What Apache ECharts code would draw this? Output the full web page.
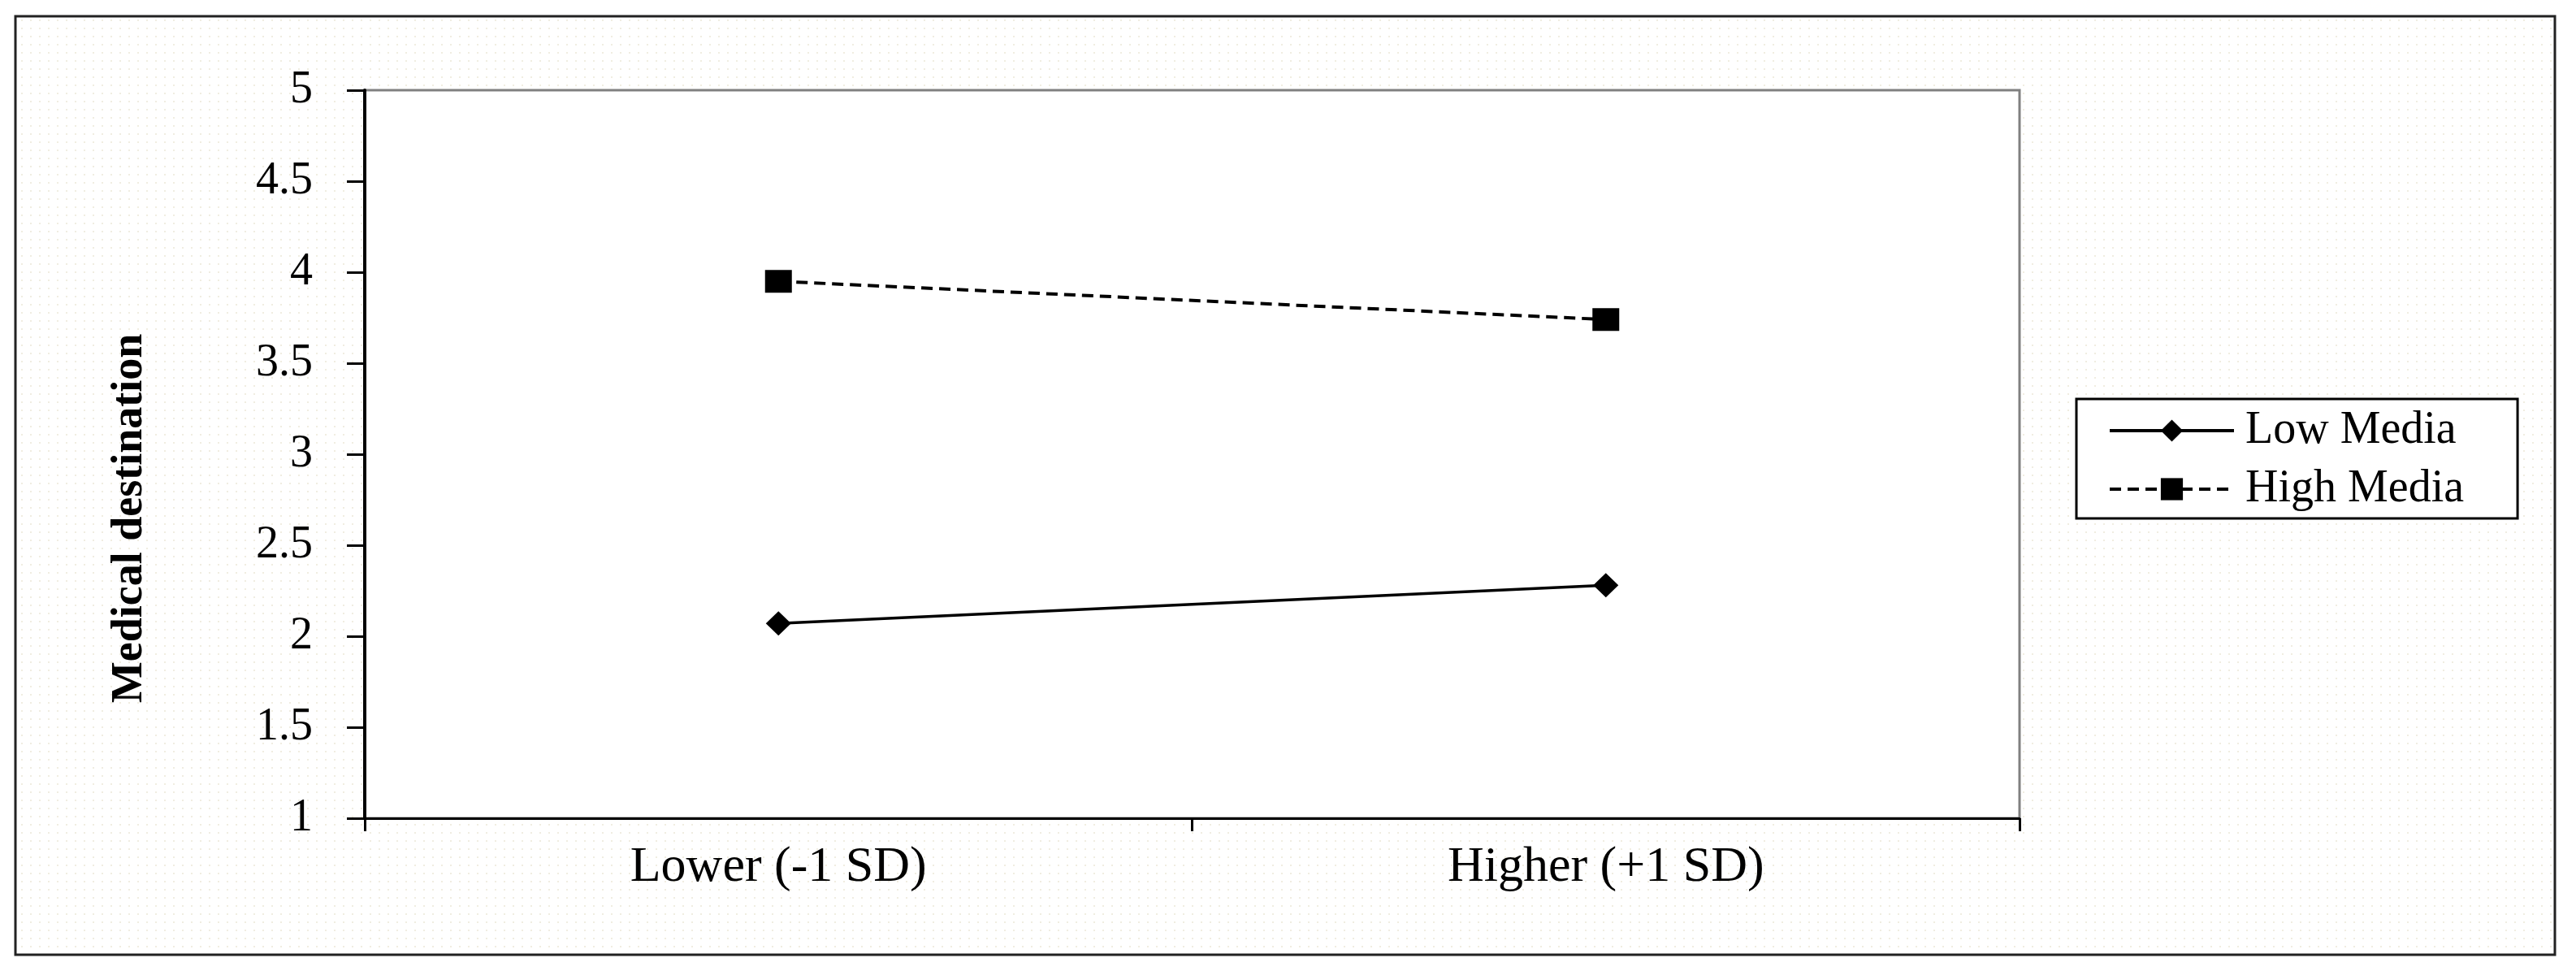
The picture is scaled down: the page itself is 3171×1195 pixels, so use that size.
<!DOCTYPE html>
<html><head><meta charset="utf-8">
<script src="https://cdn.jsdelivr.net/npm/echarts@6/dist/echarts.min.js"></script>
<style>html,body{margin:0;padding:0;background:#fff}#c{width:3171px;height:1195px}</style>
</head><body><div id="c"></div>
<script>
const categories = ['Lower (-1 SD)', 'Higher (+1 SD)'];
const seriesNames = ['Low Media', 'High Media'];
const lowMedia = [2.07, 2.28];
const highMedia = [3.95, 3.74];
const yMin = 1, yMax = 5, yStep = 0.5;
const yTitle = 'Medical destination';

const FONT = "'Liberation Serif', 'Times New Roman', serif";

const pc = document.createElement('canvas'); pc.width = 11; pc.height = 10;
const pctx = pc.getContext('2d');
pctx.fillStyle = '#ffffff'; pctx.fillRect(0, 0, 11, 10);
pctx.fillStyle = '#f0ede1'; pctx.fillRect(4, 4, 2, 2);

const chart = echarts.init(document.getElementById('c'), null, {renderer: 'canvas'});
chart.setOption({
  animation: false,
  backgroundColor: '#ffffff',
  graphic: [
    {type: 'rect', z: -10, silent: true,
     shape: {x: 19, y: 20, width: 3126, height: 1155},
     style: {fill: {image: pc, repeat: 'repeat'}, stroke: '#222222', lineWidth: 3}},
    {type: 'text', x: 160, y: 638, rotation: Math.PI / 2, silent: true,
     style: {text: yTitle, font: "bold 54px 'Liberation Serif', serif", fill: '#000', align: 'center', verticalAlign: 'middle'}}
  ],
  grid: {left: 449, top: 111, width: 2037, height: 896, outerBoundsMode: 'none', containLabel: false,
         show: true, backgroundColor: '#ffffff', borderColor: '#808080', borderWidth: 3},
  legend: {
    orient: 'vertical', left: 2556, top: 491,
    itemWidth: 153, itemHeight: 34, itemGap: 16,
    padding: [11, 66, 8, 39],
    backgroundColor: '#ffffff', borderColor: '#000', borderWidth: 3, borderRadius: 0,
    lineStyle: {width: 4},
    textStyle: {fontSize: 56, fontFamily: FONT, color: '#000', padding: [0, 0, 0, 9]},
    data: seriesNames
  },
  xAxis: {
    type: 'category', data: categories, boundaryGap: true,
    axisLine: {show: true, lineStyle: {color: '#000', width: 3}},
    axisTick: {show: true, length: 16, lineStyle: {color: '#000', width: 3}},
    axisLabel: {fontSize: 62, fontFamily: FONT, color: '#000', margin: 30},
    splitLine: {show: false}
  },
  yAxis: {
    type: 'value', min: yMin, max: yMax, interval: yStep,
    axisLine: {show: true, lineStyle: {color: '#000', width: 4}},
    axisTick: {show: true, length: 22, lineStyle: {color: '#000', width: 3}},
    axisLabel: {fontSize: 56, fontFamily: FONT, color: '#000', margin: 64},
    splitLine: {show: false}
  },
  series: [
    {name: seriesNames[0], type: 'line', data: lowMedia, symbol: 'diamond', symbolSize: [31, 30],
     lineStyle: {color: '#000', width: 3.5}, itemStyle: {color: '#000'}},
    {name: seriesNames[1], type: 'line', data: highMedia, symbol: 'rect', symbolSize: [33, 28],
     lineStyle: {color: '#000', width: 4, type: [14, 8]}, itemStyle: {color: '#000'}}
  ]
});
</script>
</body></html>
